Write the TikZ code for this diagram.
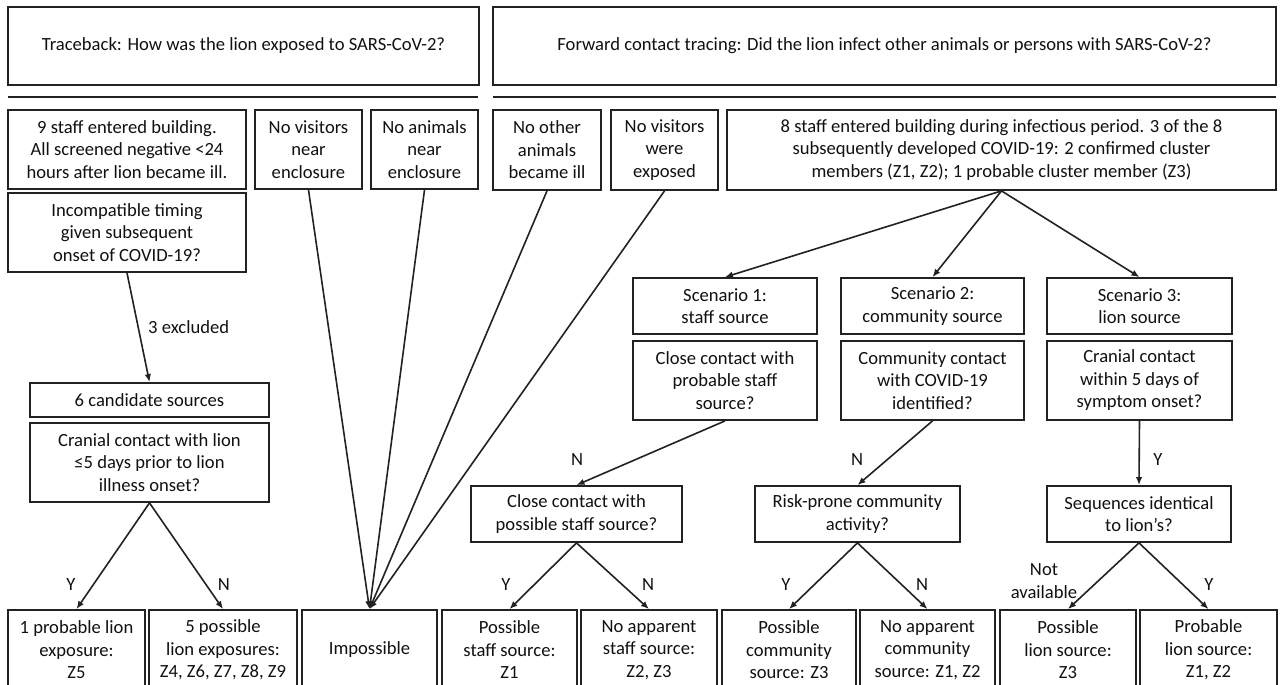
\documentclass[tikz,border=0pt]{standalone}
\usepackage{fontspec}
\setmainfont{Carlito}
\usetikzlibrary{arrows.meta}
\definecolor{ink}{HTML}{222222}
\definecolor{txt}{HTML}{111111}
\newcommand\mybox[6]{%
  \node[box, minimum width={(#4)-(#2)}, minimum height={(#5)-(#3)}] (#1) at ({((#2)+(#4))/2},{((#3)+(#5))/2}) {#6};}
\begin{document}
\begin{tikzpicture}[x=1pt,y=-1pt,
  box/.style={draw=ink, line width=1.8pt, align=center, inner sep=0pt, text=txt, font=\fontsize{18.6}{22.5}\selectfont},
  arr/.style={draw=ink, line width=1.6pt, -{Latex[length=8pt,width=6.5pt]}},
  lbl/.style={text=txt, font=\fontsize{18.6}{22.5}\selectfont, inner sep=0pt, align=center},
  sep/.style={draw=ink, line width=2.5pt}]
\useasboundingbox (0,0) rectangle (1280,685);
\fill[white] (0,0) rectangle (1280,685);
\clip (0,0) rectangle (1280,685);

% headers
\mybox{top1}{8}{7}{479}{85}{Traceback: How was the lion exposed to SARS-CoV-2?}
\mybox{top2}{493}{7}{1276}{85}{Forward contact tracing: Did the lion infect other animals or persons with SARS-CoV-2?}
\draw[sep] (8,97) -- (478,97);
\draw[sep] (493,97) -- (1276,97);

% row 1
\mybox{A}{8}{110}{246}{189}{9 staff entered building.\\ All screened negative <24\\ hours after lion became ill.}
\mybox{B}{255}{110}{362}{189}{No visitors\\ near\\ enclosure}
\mybox{C}{371}{110}{478}{189}{No animals\\ near\\ enclosure}
\mybox{D}{493}{110}{601}{190}{No other\\ animals\\ became ill}
\mybox{E}{611}{110}{718}{190}{No visitors\\ were\\ exposed}
\mybox{F}{727}{110}{1276}{190}{8 staff entered building during infectious period. 3 of the 8\\ subsequently developed COVID-19: 2 confirmed cluster\\ members (Z1, Z2); 1 probable cluster member (Z3)}

% traceback column
\mybox{inc}{8}{193}{246}{272}{Incompatible timing\\ given subsequent\\ onset of COVID-19?}
\mybox{cand}{30}{383}{269}{417}{6 candidate sources}
\mybox{cran}{30}{423}{269}{502}{Cranial contact with lion\\ ≤5 days prior to lion\\ illness onset?}

% scenarios
\mybox{s1}{633}{278}{817}{334}{Scenario 1:\\ staff source}
\mybox{s2}{841}{278}{1024}{334}{Scenario 2:\\ community source}
\mybox{s3}{1047}{278}{1232}{334}{Scenario 3:\\ lion source}
\mybox{q1}{633}{341}{817}{420}{Close contact with\\ probable staff\\ source?}
\mybox{q2}{841}{341}{1024}{420}{Community contact\\ with COVID-19\\ identified?}
\mybox{q3}{1047}{341}{1232}{420}{Cranial contact\\ within 5 days of\\ symptom onset?}
\mybox{m1}{471}{486}{682}{542}{Close contact with\\ possible staff source?}
\mybox{m2}{755}{486}{960}{542}{Risk-prone community\\ activity?}
\mybox{m3}{1047}{486}{1231}{542}{Sequences identical\\ to lion’s?}

% bottom row
\mybox{b1}{8}{610}{145}{690}{1 probable lion\\ exposure:\\ Z5}
\mybox{b2}{149}{610}{297}{690}{5 possible\\ lion exposures:\\ Z4, Z6, Z7, Z8, Z9}
\mybox{b3}{302}{610}{437}{690}{Impossible}
\mybox{b4}{442}{610}{577}{690}{Possible\\ staff source:\\ Z1}
\mybox{b5}{581}{610}{717}{690}{No apparent\\ staff source:\\ Z2, Z3}
\mybox{b6}{722}{610}{856}{690}{Possible\\ community\\ source: Z3}
\mybox{b7}{860}{610}{995}{690}{No apparent\\ community\\ source: Z1, Z2}
\mybox{b8}{1000}{610}{1136}{690}{Possible\\ lion source:\\ Z3}
\mybox{b9}{1140}{610}{1277}{690}{Probable\\ lion source:\\ Z1, Z2}

% connectors
\draw[arr] (inc.south) -- (cand.north);
\draw[arr] (cran.south) -- (b1.north);
\draw[arr] (cran.south) -- (b2.north);
\draw[arr] (B.south) -- (b3.north);
\draw[arr] (C.south) -- (b3.north);
\draw[arr] (D.south) -- (b3.north);
\draw[arr] (E.south) -- (b3.north);
\draw[arr] (F.south) -- (s1.north);
\draw[arr] (F.south) -- (s2.north);
\draw[arr] (F.south) -- (s3.north);
\draw[arr] (q1.south) -- (m1.north);
\draw[arr] (q2.south) -- (m2.north);
\draw[arr] (q3.south) -- (m3.north);
\draw[arr] (m1.south) -- (b4.north);
\draw[arr] (m1.south) -- (b5.north);
\draw[arr] (m2.south) -- (b6.north);
\draw[arr] (m2.south) -- (b7.north);
\draw[arr] (m3.south) -- (b8.north);
\draw[arr] (m3.south) -- (b9.north);

% labels
\node[lbl, anchor=west] (l3ex) at (148,327) {3 excluded};
\node[lbl] (lY1) at (71,585) {Y};
\node[lbl] (lN1) at (224,585) {N};
\node[lbl] (lN2) at (577,460) {N};
\node[lbl] (lN3) at (857,460) {N};
\node[lbl] (lY2) at (1158,460) {Y};
\node[lbl] (lY3) at (506,585) {Y};
\node[lbl] (lN4) at (648,585) {N};
\node[lbl] (lY4) at (786,585) {Y};
\node[lbl] (lN5) at (922,585) {N};
\node[lbl] (lNA) at (1044,581) {Not\\ available};
\node[lbl] (lY5) at (1209,585) {Y};
\end{tikzpicture}
\end{document}
